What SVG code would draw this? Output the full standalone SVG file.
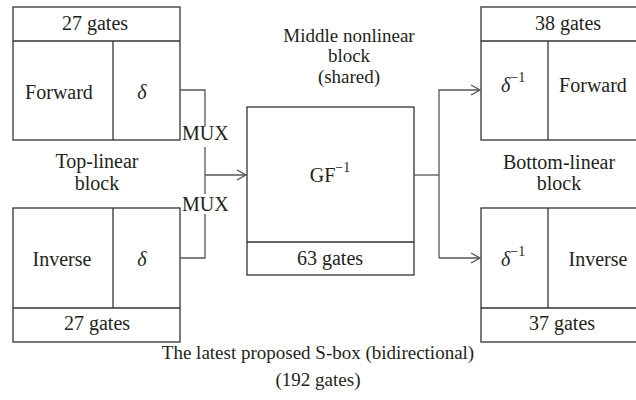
<svg xmlns="http://www.w3.org/2000/svg" width="636" height="400" viewBox="0 0 636 400">
<defs>
<style>
.box{fill:#fff;stroke:#333;stroke-width:1.3}
.ln{fill:none;stroke:#333;stroke-width:1.3}
.cn{fill:none;stroke:#555;stroke-width:1.3}
text{font-family:"Liberation Serif","Times New Roman",serif;font-size:20px;fill:#231f20}
.c{text-anchor:middle}
.i{font-style:italic}
.sup{font-size:14px}
.cap{font-size:19px}
</style>
<marker id="arr" markerWidth="12" markerHeight="12" refX="10" refY="6" orient="auto" markerUnits="userSpaceOnUse">
<path d="M1,1 L10,6 L1,11" fill="none" stroke="#555" stroke-width="1.3"/>
</marker>
</defs>
<rect width="636" height="400" fill="#fff"/>

<g id="top-left-block">
<rect class="box" x="13" y="7" width="167" height="133"/>
<line class="ln" x1="13" y1="41" x2="180" y2="41"/>
<line class="ln" x1="113" y1="41" x2="113" y2="140"/>
<text class="c" x="95" y="30">27 gates</text>
<text class="c" x="59" y="99">Forward</text>
<text class="c i" x="142" y="99">δ</text>
</g>
<text class="c" x="97" y="168">Top-linear</text>
<text class="c" x="97" y="190">block</text>

<g id="bottom-left-block">
<rect class="box" x="13" y="208" width="167" height="134"/>
<line class="ln" x1="13" y1="308" x2="180" y2="308"/>
<line class="ln" x1="113" y1="208" x2="113" y2="308"/>
<text class="c" x="62" y="266">Inverse</text>
<text class="c i" x="142" y="266">δ</text>
<text class="c" x="97" y="330">27 gates</text>
</g>

<g id="middle-block">
<rect class="box" x="247" y="107" width="167" height="168"/>
<line class="ln" x1="247" y1="242" x2="414" y2="242"/>
<text class="c" x="330" y="182">GF<tspan class="sup" dy="-10">−1</tspan></text>
<text class="c" x="330" y="265">63 gates</text>
</g>
<text class="c cap" x="349" y="42">Middle nonlinear</text>
<text class="c cap" x="349" y="62">block</text>
<text class="c cap" x="349" y="83">(shared)</text>

<g id="top-right-block">
<rect class="box" x="481" y="7" width="180" height="133"/>
<line class="ln" x1="481" y1="41" x2="661" y2="41"/>
<line class="ln" x1="548" y1="41" x2="548" y2="140"/>
<text class="c" x="568" y="30">38 gates</text>
<text class="c" x="593" y="92">Forward</text>
<text x="501" y="92"><tspan class="i">δ</tspan><tspan class="sup" dy="-10">−1</tspan></text>
</g>
<text class="c" x="559" y="169">Bottom-linear</text>
<text class="c" x="559" y="190">block</text>

<g id="bottom-right-block">
<rect class="box" x="481" y="208" width="180" height="134"/>
<line class="ln" x1="481" y1="308" x2="661" y2="308"/>
<line class="ln" x1="548" y1="208" x2="548" y2="308"/>
<text class="c" x="598" y="266">Inverse</text>
<text x="501" y="266"><tspan class="i">δ</tspan><tspan class="sup" dy="-10">−1</tspan></text>
<text class="c" x="562" y="330">37 gates</text>
</g>

<g id="connectors">
<polyline class="cn" points="180,90 205,90 205,126"/>
<line class="cn" x1="205" y1="147" x2="205" y2="194"/>
<polyline class="cn" points="180,258 205,258 205,214"/>
<line class="cn" x1="205" y1="175" x2="246" y2="175" marker-end="url(#arr)"/>
<text x="182" y="140">MUX</text>
<text x="182" y="211">MUX</text>
<polyline class="cn" points="414,175 439,175"/>
<polyline class="cn" points="439,258 439,90 480,90" marker-end="url(#arr)"/>
<line class="cn" x1="439" y1="258" x2="480" y2="258" marker-end="url(#arr)"/>
</g>

<text class="c cap" x="318" y="359">The latest proposed S-box (bidirectional)</text>
<text class="c cap" x="318" y="386">(192 gates)</text>
</svg>
